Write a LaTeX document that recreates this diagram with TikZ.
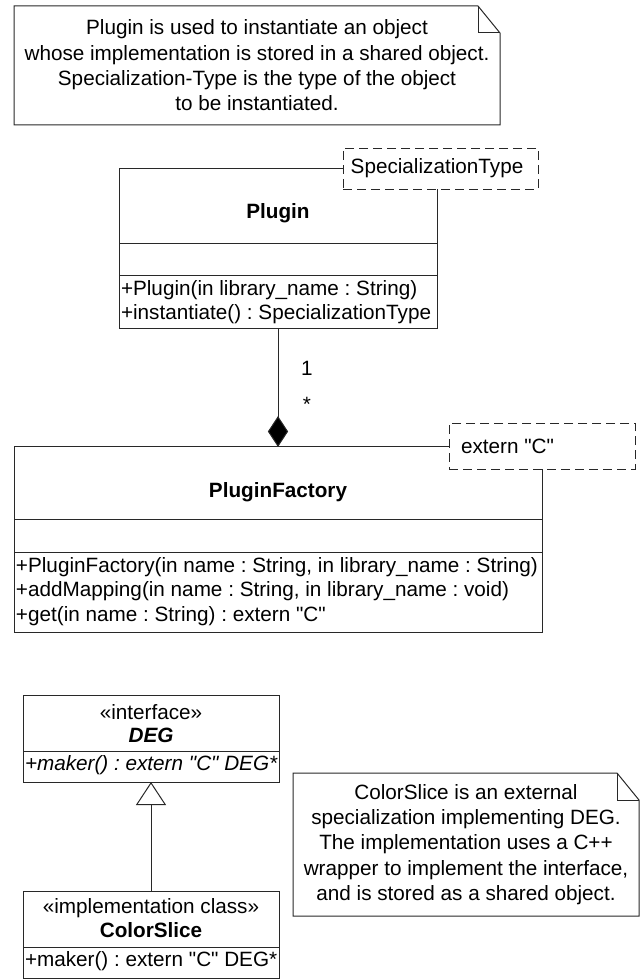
\documentclass[tikz,border=0pt]{standalone}
\usepackage{fontspec}
\setmainfont{Liberation Sans}[Ligatures=TeXOff]
\usetikzlibrary{arrows.meta,shapes.geometric}
\definecolor{ln}{RGB}{40,40,40}
\frenchspacing
\begin{document}
\begin{tikzpicture}[x=1pt,y=-1pt,
  every node/.style={inner sep=0pt, outer sep=0pt},
  txt/.style={font=\fontsize{20.7}{25.3}\selectfont\frenchspacing},
  bold/.style={font=\fontsize{20.7}{25.3}\selectfont\bfseries},
  bolditalic/.style={font=\fontsize{20.7}{25.3}\selectfont\bfseries\itshape},
  italic/.style={font=\fontsize{20.7}{25.3}\selectfont\itshape\frenchspacing},
  classbox/.style={draw=ln, line width=1pt, anchor=north west},
  tmplbox/.style={draw=ln, dash pattern=on 9pt off 5pt, fill=white, line width=1pt, anchor=north west},
  edge/.style={draw=ln, line width=1pt},
  notetext/.style={font=\fontsize{20.7}{25.3}\selectfont\frenchspacing, align=center}
]
\useasboundingbox (0,0) rectangle (644,979);

% ---------- top note ----------
\node[notetext, minimum width=486pt, minimum height=119pt] (note1) at (257,65.5)
  {Plugin is used to instantiate an object\\
   whose implementation is stored in a shared object.\\
   Specialization-Type is the type of the object\\
   to be instantiated.};
\draw[edge] (note1.north west) -- ([xshift=-22pt]note1.north east) -- ([yshift=-27pt]note1.north east)
  -- (note1.south east) -- (note1.south west) -- cycle;
\draw[edge] ([xshift=-22pt]note1.north east) -- ([xshift=-22pt,yshift=-27pt]note1.north east)
  -- ([yshift=-27pt]note1.north east);

% ---------- Plugin class ----------
\node[classbox, minimum width=318pt, minimum height=160pt] (plugin) at (119,168) {};
\draw[edge] (119,243) -- (437,243);
\draw[edge] (119,275) -- (437,275);
\node[bold] (pluginname) at (278,213) {Plugin};
\node[txt, anchor=west] (pm1) at (121,290) {+Plugin(in library\_name : String)};
\node[txt, anchor=west] (pm2) at (121,314) {+instantiate() : SpecializationType};
\node[tmplbox, minimum width=195pt, minimum height=41pt] (spec) at (343,148) {};
\node[txt] (spectxt) at (437,168) {SpecializationType};

% ---------- PluginFactory class ----------
\node[classbox, minimum width=528pt, minimum height=186pt] (pf) at (14,446) {};
\draw[edge] (14,519) -- (542,519);
\draw[edge] (14,552) -- (542,552);
\node[bold] (pfname) at (278,492) {PluginFactory};
\node[txt, anchor=west] (pf1) at (16,567) {+PluginFactory(in name : String, in library\_name : String)};
\node[txt, anchor=west] (pf2) at (16,591) {+addMapping(in name : String, in library\_name : void)};
\node[txt, anchor=west] (pf3) at (16,616) {+get(in name : String) : extern "C"};
\node[tmplbox, minimum width=186pt, minimum height=46pt] (ext) at (449,423) {};
\node[txt, anchor=west] (exttxt) at (461,446) {extern "C"};

% ---------- composition ----------
\node[diamond, draw=ln, fill=black, line width=1pt, minimum width=19pt, minimum height=29pt, anchor=south] (comp) at (pf.north) {};
\draw[edge] (plugin.south) -- (comp.north);
\node[txt] (m1) at (307,368) {1};
\node[txt] (m2) at (307,404) {*};

% ---------- DEG interface ----------
\node[classbox, minimum width=256pt, minimum height=87pt] (deg) at (23,695) {};
\draw[edge] (23,751) -- (279,751);
\node[txt] (degst) at (151,712) {«interface»};
\node[bolditalic] (degname) at (151,735) {DEG};
\node[italic, anchor=west] (degm) at (25,765) {+maker() : extern "C" DEG*};

% ---------- ColorSlice ----------
\node[classbox, minimum width=256pt, minimum height=87pt] (cs) at (23,891) {};
\draw[edge] (23,947) -- (279,947);
\node[txt] (csst) at (151,908) {«implementation class»};
\node[bold] (csname) at (151,930) {ColorSlice};
\node[txt, anchor=west] (csm) at (25,961) {+maker() : extern "C" DEG*};

% ---------- generalization ----------
\draw[edge, -{Triangle[open, width=30pt, length=23pt]}] (cs.north) -- (deg.south);

% ---------- second note ----------
\node[notetext, minimum width=346pt, minimum height=143pt] (note2) at (466,844.5)
  {ColorSlice is an external\\
   specialization implementing DEG.\\
   The implementation uses a C++\\
   wrapper to implement the interface,\\
   and is stored as a shared object.};
\draw[edge] (note2.north west) -- ([xshift=-22pt]note2.north east) -- ([yshift=-27pt]note2.north east)
  -- (note2.south east) -- (note2.south west) -- cycle;
\draw[edge] ([xshift=-22pt]note2.north east) -- ([xshift=-22pt,yshift=-27pt]note2.north east)
  -- ([yshift=-27pt]note2.north east);
\end{tikzpicture}
\end{document}
